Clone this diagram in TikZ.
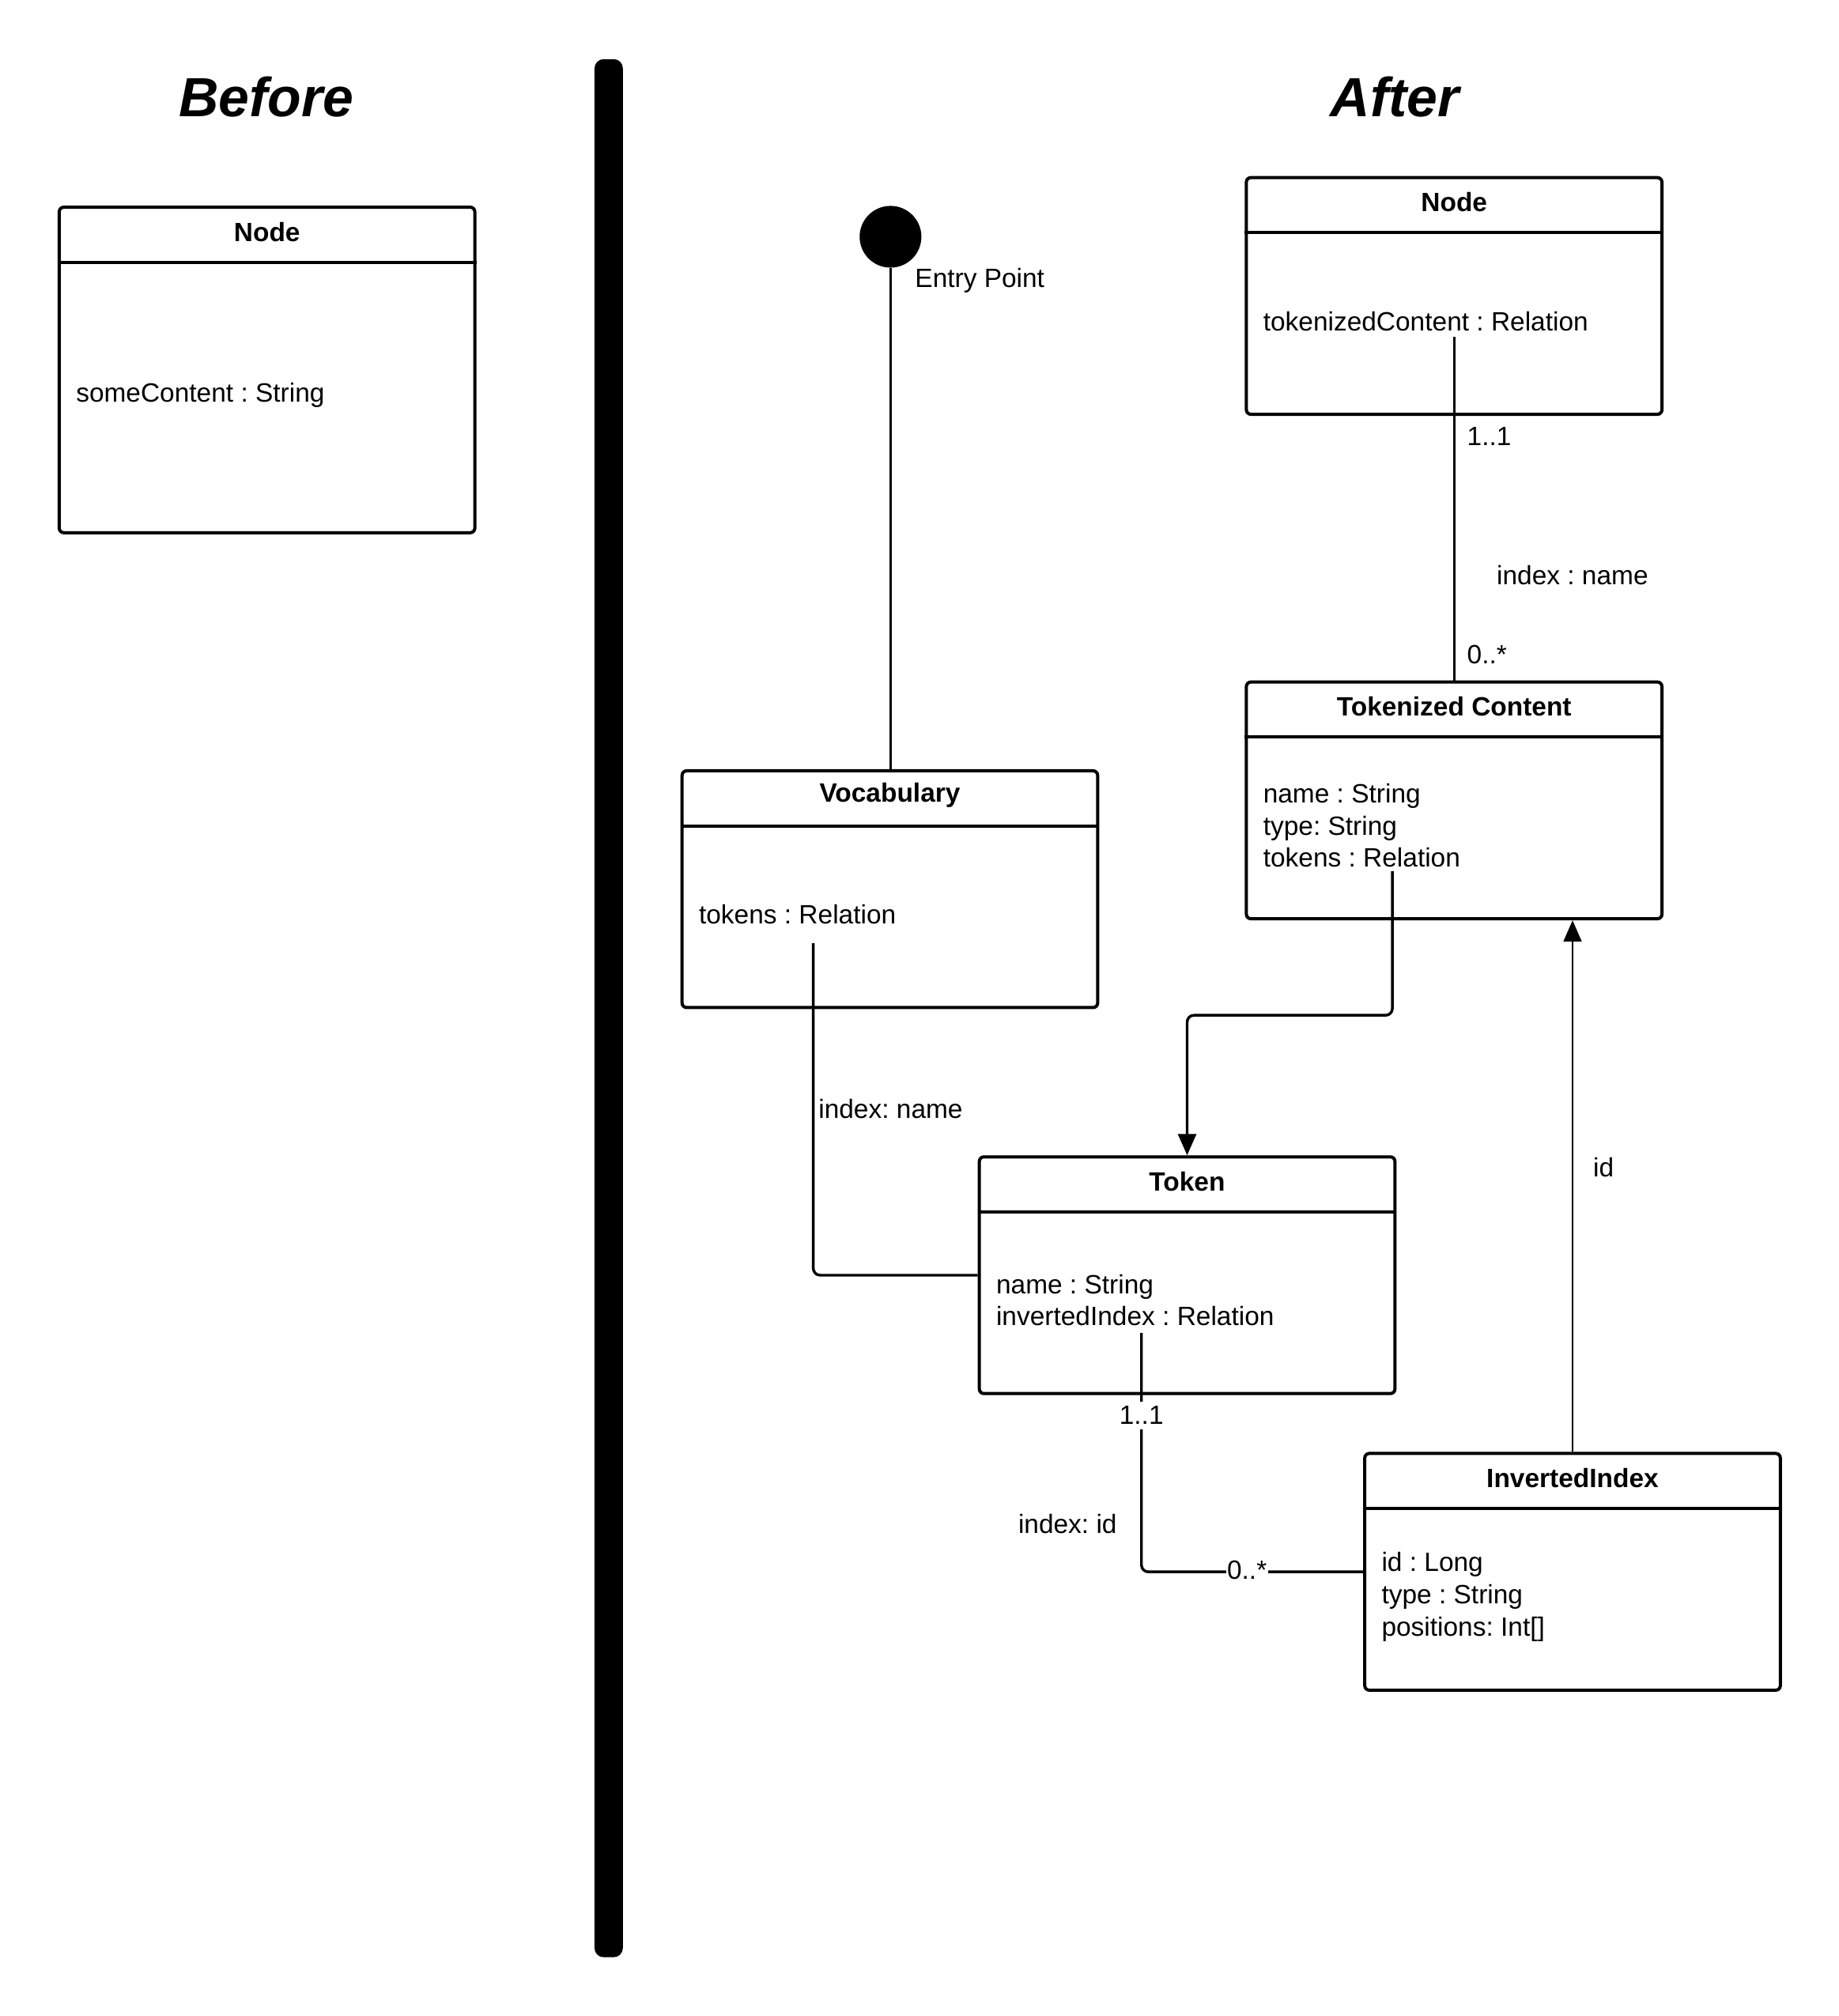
\documentclass[tikz,border=0pt]{standalone}
\usepackage{fontspec}
\setmainfont{Liberation Sans}
\usetikzlibrary{arrows.meta,calc,positioning}

\tikzset{
  classbox/.style={draw, line width=1.4pt, rounded corners=2pt,
    minimum width=6.46cm, minimum height=3.68cm, inner sep=0pt},
  classtitle/.style={font=\fontsize{11.7pt}{14.2pt}\selectfont\bfseries, inner sep=0pt},
  attrs/.style={align=left, anchor=west, inner sep=0pt},
  headline/.style={line width=1.4pt},
  assoc/.style={line width=1.2pt, rounded corners=3pt},
  link/.style={line width=0.9pt},
  lbl/.style={inner sep=1pt},
  tip/.style={-{Triangle[width=0.28cm,length=0.33cm]}},
  heading/.style={font=\fontsize{24.4pt}{29pt}\selectfont\bfseries\itshape}
}

% name, centre, height, title, attributes
\newcommand{\umlclass}[5]{%
  \node[classbox, minimum height=#3] (#1) at #2 {};
  \draw[headline] ([yshift=-0.88cm]#1.north west) -- ([yshift=-0.88cm]#1.north east);
  \node[classtitle] (#1-title) at ([yshift=-0.41cm]#1.north) {#4};
  \node[attrs] (#1-attr) at ([xshift=0.28cm,yshift=-0.39cm]#1.west) {#5};
}

\frenchspacing
\begin{document}
\begin{tikzpicture}[x=0.02cm,y=-0.02cm,
    every node/.style={font=\fontsize{11.7pt}{14.2pt}\selectfont}]
  \useasboundingbox (0,0) rectangle (1428.5,1566.7);

  % separator and headings
  \fill[rounded corners=4pt] (462,46) rectangle (484,1521);
  \node[heading] (before) at (207,75) {Before};
  \node[heading] (after) at (1084,75) {After};

  % before
  \umlclass{oldnode}{(207.5,287.5)}{5.06cm}{Node}{someContent : String}

  % after
  \umlclass{newnode}{(1130,230)}{3.68cm}{Node}{tokenizedContent : Relation}
  \umlclass{tokcontent}{(1130,622)}{3.68cm}{Tokenized Content}{name : String\\type: String\\tokens : Relation}
  \umlclass{vocab}{(691.5,691)}{3.68cm}{Vocabulary}{tokens : Relation}
  \umlclass{token}{(922.5,991)}{3.68cm}{Token}{name : String\\invertedIndex : Relation}
  \umlclass{invindex}{(1222,1221.5)}{3.68cm}{InvertedIndex}{id : Long\\type : String\\positions: Int[]}

  % entry point
  \node[circle, fill, inner sep=0pt, minimum size=0.96cm] (entry) at (692,184) {};
  \node[lbl, anchor=west] (entrylbl) at (709,218) {Entry Point};
  \draw[link] (entry.south) -- (entry.south |- vocab.north);

  % free ends under the attributes
  \coordinate (nn-out) at (1130,262);
  \coordinate (tc-out) at (1082,677);
  \coordinate (tc-turn) at (922.5,789);
  \coordinate (vo-out) at (632,733);
  \coordinate (tk-out) at (887,1036);

  % Node -- Tokenized Content
  \draw[link] (nn-out) -- (nn-out |- tokcontent.north);
  \node[lbl, anchor=west] (nn-m1) at (1138,339) {1..1};
  \node[lbl, anchor=west] (nn-role) at (1161,447) {index : name};
  \node[lbl, anchor=west] (nn-m2) at (1138,509) {0..*};

  % Tokenized Content -> Token
  \draw[assoc, tip] (tc-out) |- (tc-turn) -- (token.north);

  % Vocabulary -- Token
  \draw[assoc] (vo-out) |- (token.west);
  \node[lbl, anchor=west] (vo-role) at (634,862) {index: name};

  % Token -- InvertedIndex
  \draw[assoc] (tk-out) |- (invindex.west);
  \node[lbl, fill=white, inner sep=2pt] (tk-m1) at (887,1100) {1..1};
  \node[lbl, fill=white, inner sep=0.5pt] (tk-m2) at (969,1220) {0..*};
  \node[lbl, anchor=east] (tk-role) at (870,1184) {index: id};

  % InvertedIndex -> Tokenized Content
  \draw[link, tip] (invindex.north) -- (invindex.north |- tokcontent.south);
  \node[lbl, anchor=west] (ii-role) at (1236,907) {id};
\end{tikzpicture}
\end{document}
